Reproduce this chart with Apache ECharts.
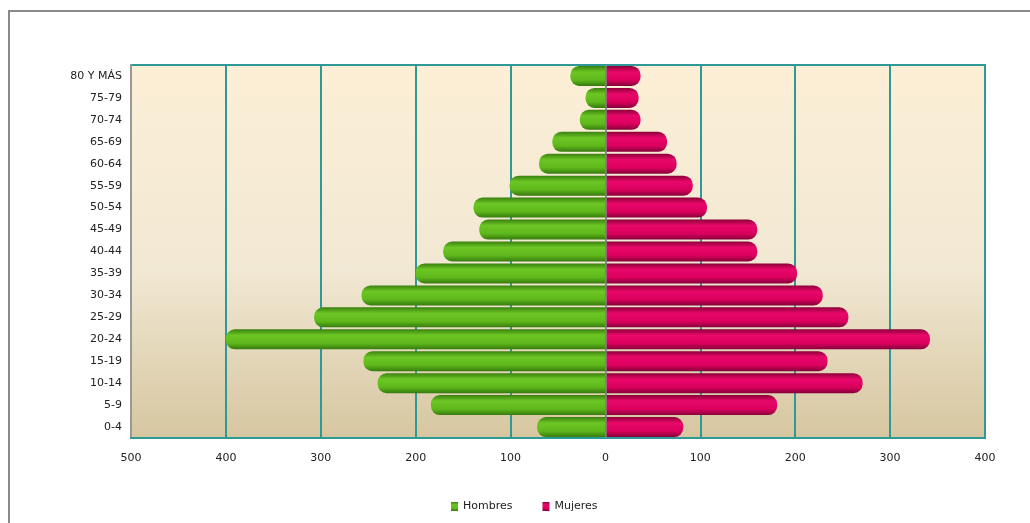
<!DOCTYPE html>
<html>
<head>
<meta charset="utf-8">
<script src="https://cdn.jsdelivr.net/npm/echarts@6/dist/echarts.min.js"></script>
<style>
html,body{margin:0;padding:0;background:#fff;}
#frame{position:absolute;left:8px;top:10px;width:1100px;height:600px;border-top:2px solid #8a8a8a;border-left:2px solid #8a8a8a;box-sizing:border-box;}
#c{position:absolute;left:0;top:0;width:1030px;height:523px;}
</style>
</head>
<body>
<div id="frame"></div>
<div id="c"></div>
<script>
const categories = ['0-4','5-9','10-14','15-19','20-24','25-29','30-34','35-39','40-44','45-49','50-54','55-59','60-64','65-69','70-74','75-79','80 Y MÁS'];
const hombres = [72,184,240,255,400,307,257,200,171,133,139,101,70,56,27,21,37];
const mujeres = [82,181,271,234,342,256,229,202,160,160,107,92,75,65,37,35,37];
const xTicks = [-500,-400,-300,-200,-100,0,100,200,300,400];

const chart = echarts.init(document.getElementById('c'));
const grad = (c0,c1,c2,c3) => new echarts.graphic.LinearGradient(0,0,0,1,[
  {offset:0,color:c0},{offset:0.3,color:c1},{offset:0.7,color:c2},{offset:1,color:c3}]);
chart.setOption({
  animation:false,
  grid:{left:131,right:45,top:65,bottom:85,show:true,borderColor:'#2e9a98',borderWidth:2,
    backgroundColor:new echarts.graphic.LinearGradient(0,0,0,1,[{offset:0,color:'#fdefd6'},{offset:0.55,color:'#f1e8d3'},{offset:1,color:'#d6c6a0'}])},
  legend:{bottom:6,left:446,itemWidth:7,itemHeight:9,itemGap:30,
    textStyle:{fontFamily:'DejaVu Sans',fontSize:11,color:'#222'},
    data:[{name:'Hombres',icon:'rect'},{name:'Mujeres',icon:'rect'}]},
  xAxis:{type:'value',min:-500,max:400,interval:100,
    axisLine:{show:true,lineStyle:{color:'#2e9a98',width:2}},
    axisTick:{show:false},
    splitLine:{show:true,lineStyle:{color:'#2e9a98',width:2}},
    axisLabel:{margin:15,color:'#222',fontFamily:'DejaVu Sans',fontSize:11,formatter:v=>Math.abs(v)}},
  yAxis:{type:'category',data:categories,
    axisLine:{show:true,onZero:false,lineStyle:{color:'#999',width:2}},
    axisTick:{show:false},
    axisLabel:{margin:9,color:'#222',fontFamily:'DejaVu Sans',fontSize:11}},
  series:[
    {name:'Hombres',type:'bar',stack:'a',barWidth:20,
     data:hombres.map(v=>-v),
     itemStyle:{color:grad('#3a800f','#6cc624','#5fb81b','#367a0e'),borderRadius:[9,0,0,9]},
     markLine:{silent:true,symbol:'none',label:{show:false},lineStyle:{color:'#8a8a8a',width:1.5,type:'solid'},data:[{xAxis:0}]}},
    {name:'Mujeres',type:'bar',stack:'a',barWidth:20,
     data:mujeres,
     itemStyle:{color:grad('#8c0038','#e8086a','#dc005e','#86003a'),borderRadius:[0,9,9,0]}}
  ],
  color:['#5fb81b','#dc005e']
});
</script>
</body>
</html>
